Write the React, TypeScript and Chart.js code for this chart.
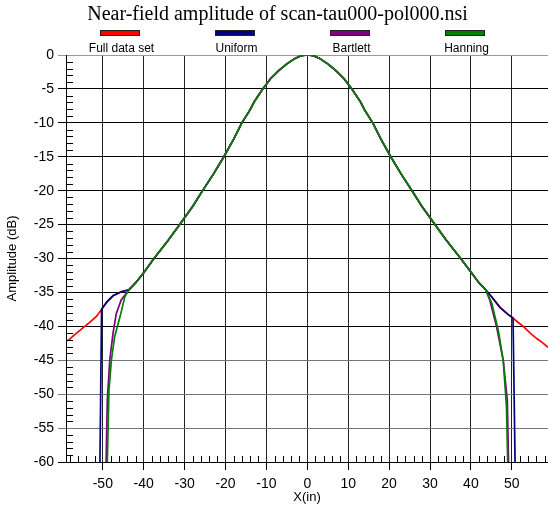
import { useEffect, useRef } from "react";
import { Chart, registerables } from "chart.js";

Chart.register(...registerables);

const TITLE = "Near-field amplitude of scan-tau000-pol000.nsi";
const X_TITLE = "X(in)";
const Y_TITLE = "Amplitude (dB)";
const SERIES_NAMES = ["Full data set", "Uniform", "Bartlett", "Hanning"];
const SERIES_COLORS = ["#ff0000", "#000080", "#800080", "#008000"];

const X_TICKS = [-50, -40, -30, -20, -10, 0, 10, 20, 30, 40, 50];
const Y_TICKS = [0, -5, -10, -15, -20, -25, -30, -35, -40, -45, -50, -55, -60];

// main lobe, common to every window (X in inches, amplitude in dB)
const coreX = [-43.6, -42, -40, -37.5, -34, -31.2, -28, -25.6, -23, -20.4, -18, -16, -14, -13, -12, -10.9, -10, -9, -7, -5, -3, -1.5, 0, 1.5, 3, 5, 7, 9, 10, 10.9, 12, 13, 14, 16, 18, 20.4, 23, 25.6, 28, 31.2, 34, 37.5, 40, 42, 43.6];
const coreY = [-34.6, -33.6, -32.1, -30, -27.3, -25, -22.3, -20, -17.6, -15, -12.4, -10, -8.1, -6.9, -6.0, -5, -4.3, -3.5, -2.3, -1.3, -0.5, -0.1, 0, -0.1, -0.5, -1.3, -2.3, -3.5, -4.3, -5, -6.0, -6.9, -8.1, -10, -12.4, -15, -17.6, -20, -22.3, -25, -27.3, -30, -32, -33.6, -34.6];

// full data set edges
const fullLeftX = [-59, -58.3, -57, -55, -53, -51.5, -50.3, -49, -47.5, -45.5];
const fullLeftY = [-42.2, -42.0, -41.3, -40.3, -39.3, -38.5, -37.5, -36.4, -35.5, -34.9];
const fullRightX = [45, 47.1, 49, 50.3, 51.5, 52.8, 54.5, 56.1, 57.5, 58.85];
const fullRightY = [-35.6, -37.2, -38.2, -38.8, -39.4, -40, -41, -41.8, -42.4, -43.1];

// uniform window edges
const uniformLeftX = [-50.7, -50.3, -49, -47.5, -45.5];
const uniformLeftY = [-60, -37.5, -36.4, -35.5, -34.9];
const uniformRightX = [45, 47.1, 49, 50.3, 50.8];
const uniformRightY = [-35.6, -37.2, -38.2, -38.8, -60];

// Bartlett window edges
const bartlettLeftX = [-49.2, -48.9, -48.3, -47.5, -46.7, -45.5];
const bartlettLeftY = [-60, -50.9, -45, -41, -38.1, -36.1];
const bartlettRightX = [44.6, 46.3, 47.9, 48.9, 49.2];
const bartlettRightY = [-36.1, -40.1, -45, -50.9, -60];

// Hanning window edges
const hanningLeftX = [-48.9, -48.5, -47.9, -47.1, -45.8, -44.6];
const hanningLeftY = [-60, -49.4, -45, -41.5, -38.6, -35.6];
const hanningRightX = [45.1, 46.7, 47.9, 48.7, 49.0];
const hanningRightY = [-36.6, -40.6, -45, -51.9, -60];

const zip = (xs: number[], ys: number[]) => xs.map((x, i) => ({ x, y: ys[i] }));
const series = (lx: number[], ly: number[], rx: number[], ry: number[]) => [
  ...zip(lx, ly),
  ...zip(coreX, coreY),
  ...zip(rx, ry),
];

const SANS = "'Liberation Sans', Arial, sans-serif";
const SERIF = "'Liberation Serif', 'Times New Roman', serif";

// title, legend strip and minor tick marks
const decorations = {
  id: "decorations",
  afterDraw(chart: any) {
    const { ctx, chartArea } = chart;
    const xs = chart.scales.x;
    const ys = chart.scales.y;
    ctx.save();

    // minor ticks, drawn inward
    ctx.strokeStyle = "#000";
    ctx.lineWidth = 1;
    ctx.beginPath();
    for (let v = -59; v < 0; v++) {
      if (v % 5 === 0) continue;
      const y = Math.round(ys.getPixelForValue(v)) + 0.5;
      ctx.moveTo(chartArea.left, y);
      ctx.lineTo(chartArea.left + 7, y);
    }
    for (let v = -58; v <= 58; v += 2) {
      if (v % 10 === 0) continue;
      const x = Math.round(xs.getPixelForValue(v)) + 0.5;
      ctx.moveTo(x, chartArea.bottom);
      ctx.lineTo(x, chartArea.bottom - 6);
    }
    ctx.stroke();

    // title
    ctx.fillStyle = "#000";
    ctx.font = `20px ${SERIF}`;
    ctx.textAlign = "center";
    ctx.textBaseline = "alphabetic";
    ctx.fillText(TITLE, 277.5, 19.5);

    // legend
    const centers = [120, 235, 350, 465];
    ctx.font = `12px ${SANS}`;
    SERIES_NAMES.forEach((name, i) => {
      const cx = centers[i];
      ctx.fillStyle = SERIES_COLORS[i];
      ctx.fillRect(cx - 20, 31, 40, 4);
      ctx.strokeStyle = "#222";
      ctx.strokeRect(cx - 20 + 0.5, 30.5, 39, 5);
      ctx.fillStyle = "#000";
      ctx.fillText(name, cx + 1.5, 52);
    });
    ctx.restore();
  },
};

export default function App() {
  const ref = useRef<HTMLCanvasElement>(null);

  useEffect(() => {
    const datasets = [
      series(fullLeftX, fullLeftY, fullRightX, fullRightY),
      series(uniformLeftX, uniformLeftY, uniformRightX, uniformRightY),
      series(bartlettLeftX, bartlettLeftY, bartlettRightX, bartlettRightY),
      series(hanningLeftX, hanningLeftY, hanningRightX, hanningRightY),
    ].map((data, i) => ({
      label: SERIES_NAMES[i],
      data,
      borderColor: SERIES_COLORS[i],
      backgroundColor: SERIES_COLORS[i],
      borderWidth: 1.7,
      pointRadius: 0,
      tension: 0,
      fill: false,
      order: 4 - i,
    }));

    const chart = new Chart(ref.current!, {
      type: "line",
      data: { datasets },
      options: {
        responsive: false,
        devicePixelRatio: 1,
        animation: false,
        events: [],
        layout: { padding: { top: 55, left: 0, right: 0, bottom: 0 } },
        plugins: {
          legend: { display: false },
          title: { display: false },
          tooltip: { enabled: false },
        },
        scales: {
          x: {
            type: "linear",
            min: -59,
            max: 58.85,
            afterBuildTicks: (scale: any) => {
              scale.ticks = X_TICKS.map((value) => ({ value }));
            },
            afterFit: (scale: any) => {
              scale.height = 44;
            },
            grid: {
              color: "#222",
              lineWidth: 1,
              drawTicks: true,
              tickLength: 8,
              tickColor: "#000",
            },
            border: { display: true, color: "#000", width: 1 },
            ticks: {
              color: "#000",
              padding: 6,
              maxRotation: 0,
              autoSkip: false,
              font: { family: SANS, size: 14 },
              callback: (v: any) => String(v),
            },
            title: {
              display: true,
              text: X_TITLE,
              color: "#000",
              font: { family: SANS, size: 13 },
              padding: { top: 0, bottom: 1 },
            },
          },
          y: {
            type: "linear",
            min: -60,
            max: 0,
            afterBuildTicks: (scale: any) => {
              scale.ticks = Y_TICKS.map((value) => ({ value }));
            },
            afterFit: (scale: any) => {
              scale.width = 66;
            },
            grid: {
              color: (c: any) => {
                const v = c.tick ? c.tick.value : 0;
                if (v === 0) return "#999";
                if (v <= -45 && v > -60) return "#777";
                return "#000";
              },
              lineWidth: 1,
              drawTicks: true,
              tickLength: 8,
            },
            border: { display: true, color: "#000", width: 1 },
            ticks: {
              color: "#000",
              padding: 4,
              autoSkip: false,
              font: { family: SANS, size: 14 },
              callback: (v: any) => String(v),
            },
            title: {
              display: true,
              text: Y_TITLE,
              color: "#000",
              font: { family: SANS, size: 13 },
              padding: { top: 5, bottom: 0 },
            },
          },
        },
      },
      plugins: [decorations],
    });

    return () => chart.destroy();
  }, []);

  return (
    <div style={{ position: "absolute", left: 0, top: 0, width: 548, height: 506, background: "#fff" }}>
      <canvas ref={ref} width={548} height={506} style={{ display: "block" }} />
    </div>
  );
}
